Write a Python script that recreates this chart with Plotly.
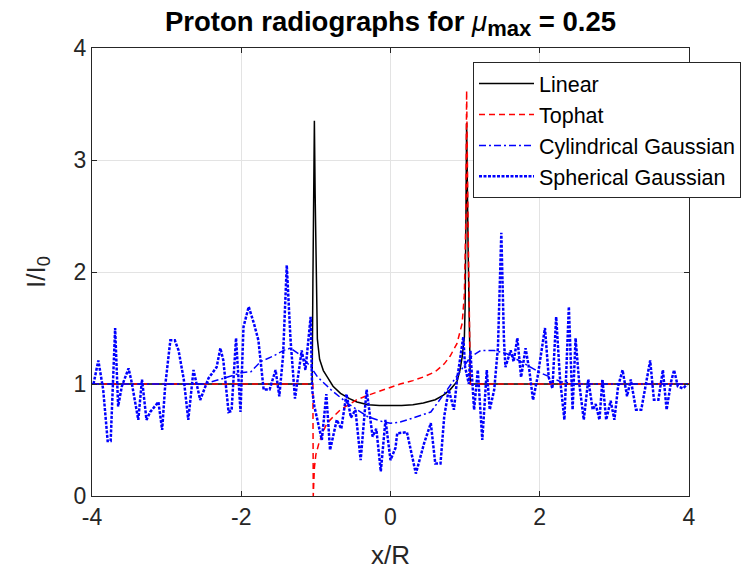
import plotly.graph_objects as go

# ---------------- data ----------------
lin_x = [-4, -1.05, -1.04, -1.03, -1.02, -1.01, -1.0, -0.98, -0.95, -0.9, -0.85, -0.77, -0.67,
         -0.55, -0.45, -0.3, -0.15, 0.0, 0.15, 0.3, 0.44, 0.6, 0.71, 0.8, 0.89, 0.93, 0.96,
         0.99, 1.0, 1.01, 1.02, 1.04, 1.06, 1.07, 4]
lin_y = [1.0, 1.0, 1.9, 2.8, 3.35, 2.7, 2.1, 1.4, 1.22, 1.12, 1.065, 0.98, 0.917,
         0.87, 0.84, 0.815, 0.808, 0.805, 0.808, 0.815, 0.83, 0.86, 0.9, 0.95, 1.02, 1.12, 1.24,
         1.42, 1.7, 2.4, 3.33, 2.2, 1.2, 1.0, 1.0]

top_x = [-4, -1.04, -1.035, -1.02, -1.0, -0.96, -0.9, -0.85, -0.75, -0.67, -0.55, -0.45, -0.3,
         -0.13, 0.0, 0.13, 0.3, 0.45, 0.6, 0.72, 0.8, 0.89, 0.96, 0.99, 1.01, 1.02, 1.04, 1.06, 1.07, 4]
top_y = [1.0, 1.0, 0.0, 0.25, 0.37, 0.47, 0.58, 0.65, 0.72, 0.77, 0.82, 0.86, 0.9,
         0.94, 0.97, 1.0, 1.03, 1.065, 1.11, 1.18, 1.25, 1.36, 1.54, 1.8, 2.5, 3.62, 2.4, 1.3, 1.0, 1.0]

cyl_x = [-4, -2.5, -2.24, -2.0, -1.87, -1.74, -1.57, -1.43, -1.34, -1.21, -1.07, -0.98, -0.8,
         -0.58, -0.31, -0.09, 0.0, 0.13, 0.27, 0.54, 0.76, 0.94, 1.07, 1.21, 1.39, 1.56, 1.79,
         2.01, 2.28, 2.5, 4]
cyl_y = [1.0, 1.0, 1.05, 1.1, 1.11, 1.2, 1.25, 1.3, 1.32, 1.26, 1.155, 1.065, 0.95,
         0.83, 0.71, 0.66, 0.65, 0.66, 0.69, 0.75, 0.95, 1.125, 1.24, 1.3, 1.3, 1.27, 1.18,
         1.1, 1.02, 1.0, 1.0]

sph_x = [-3.98, -3.915, -3.85, -3.79, -3.75, -3.69, -3.65, -3.6, -3.51, -3.47, -3.38, -3.33,
         -3.27, -3.22, -3.11, -3.06, -3.02, -2.95, -2.89, -2.84, -2.77, -2.71, -2.64, -2.6,
         -2.55, -2.44, -2.33, -2.28, -2.24, -2.17, -2.13, -2.07, -2.01, -1.97, -1.9, -1.83,
         -1.77, -1.7, -1.62, -1.54, -1.49, -1.44, -1.39, -1.34, -1.28, -1.19, -1.14, -1.07,
         -1.05, -1.02, -0.96, -0.92, -0.86, -0.81, -0.72, -0.66, -0.59, -0.53, -0.47, -0.4,
         -0.32, -0.24, -0.19, -0.13, -0.067, 0.0, 0.067, 0.09, 0.22, 0.34, 0.45, 0.54, 0.6,
         0.67, 0.72, 0.78, 0.85, 0.89, 0.975, 1.0, 1.05, 1.07, 1.12, 1.17, 1.23, 1.29, 1.33,
         1.39, 1.44, 1.485, 1.52, 1.54, 1.61, 1.65, 1.7, 1.75, 1.81, 1.86, 1.91, 1.97, 2.07,
         2.12, 2.17, 2.22, 2.27, 2.33, 2.39, 2.44, 2.48, 2.53, 2.59, 2.65, 2.71, 2.75, 2.8,
         2.84, 2.89, 2.95, 3.0, 3.05, 3.11, 3.17, 3.22, 3.29, 3.36, 3.42, 3.48, 3.53, 3.59,
         3.65, 3.7, 3.76, 3.8, 3.85, 3.92, 3.98]
sph_y = [1.0, 1.21, 0.95, 0.49, 0.49, 1.5, 0.8, 0.98, 1.14, 1.02, 0.68, 1.04,
         0.68, 0.75, 0.84, 0.59, 0.98, 1.39, 1.39, 1.3, 1.04, 0.68, 1.125, 1.0,
         0.857, 1.05, 1.15, 1.32, 1.21, 0.75, 0.76, 1.41, 0.75, 1.51, 1.69, 1.54,
         1.39, 0.95, 0.95, 1.125, 0.89, 1.25, 2.06, 1.4, 0.87, 1.3, 1.125, 1.6,
         0.95, 0.8, 0.62, 0.5, 0.91, 0.41, 0.68, 0.6, 0.91, 0.7, 0.77, 0.32,
         0.95, 0.53, 0.6, 0.22, 0.68, 0.32, 0.43, 0.56, 0.57, 0.2, 0.47, 0.65, 0.29,
         0.29, 0.71, 0.95, 0.77, 1.03, 1.42, 1.15, 1.0, 1.3, 0.77, 1.125, 0.5, 1.125, 0.77,
         0.95, 1.33, 2.35, 1.4, 1.15, 1.3, 1.2, 1.41, 1.06, 1.32, 1.125, 0.857, 1.06, 1.5,
         1.06, 0.96, 1.6, 1.06, 0.68, 1.69, 0.77, 1.41, 1.0, 0.68, 1.04, 0.77, 0.82, 0.68,
         1.04, 0.68, 0.85, 0.68, 0.98, 1.125, 0.89, 1.04, 0.77, 0.77, 0.98, 1.21, 0.86, 0.86,
         1.125, 0.77, 1.02, 1.125, 0.98, 0.96, 1.0]

x_ticks = [-4, -2, 0, 2, 4]
x_ticktext = ["-4", "-2", "0", "2", "4"]
y_ticks = [0, 1, 2, 3, 4]
y_ticktext = ["0", "1", "2", "3", "4"]

FONT = "Arial, 'Liberation Sans', Helvetica, sans-serif"
AXC = "#262626"

fig = go.Figure()
fig.add_trace(go.Scatter(x=lin_x, y=lin_y, mode="lines", name="Linear", legendgroup="a",
                         line=dict(color="black", width=1.5)))
fig.add_trace(go.Scatter(x=top_x, y=top_y, mode="lines", name="Tophat", legendgroup="b",
                         line=dict(color="#ff0000", width=1.5, dash="6px,4px")))
fig.add_trace(go.Scatter(x=cyl_x, y=cyl_y, mode="lines", name="Cylindrical Gaussian", legendgroup="c",
                         line=dict(color="#0000ff", width=1.5, dash="7px,3px,2px,3px")))
fig.add_trace(go.Scatter(x=sph_x, y=sph_y, mode="lines", name="Spherical Gaussian", legendgroup="d",
                         line=dict(color="#0000ff", width=2.5, dash="3px,1.5px")))

axis_common = dict(showgrid=True, gridcolor="#e3e3e3", gridwidth=1, zeroline=False,
                   showline=True, linecolor=AXC, linewidth=1, mirror="ticks",
                   ticks="inside", ticklen=5, tickcolor=AXC,
                   tickfont=dict(family=FONT, size=23, color=AXC))

fig.update_xaxes(range=[-4, 4], tickvals=x_ticks, ticktext=x_ticktext,
                 title=dict(text="x/R", font=dict(family=FONT, size=26, color=AXC), standoff=17),
                 **axis_common)
fig.update_yaxes(range=[0, 4], tickvals=y_ticks, ticktext=y_ticktext,
                 title=dict(text="I/I<sub>0</sub>", font=dict(family=FONT, size=26, color=AXC), standoff=20),
                 **axis_common)

fig.update_layout(
    width=754, height=572,
    margin=dict(l=92, r=65, t=48, b=76, autoexpand=False),
    paper_bgcolor="white", plot_bgcolor="white",
    title=dict(text="<b>Proton radiographs for </b><i>μ</i><sub><b><span style=\"font-size:22px\">max</span></b></sub><b> = 0.25</b>",
               x=(92 + 597 / 2) / 754, xanchor="center", y=1 - 21 / 572, yanchor="middle",
               font=dict(family=FONT, size=27.5, color="black")),
    legend=dict(x=(473 - 92) / 597, y=(496 - 62) / 448, xanchor="left", yanchor="top",
                bgcolor="white", bordercolor=AXC, borderwidth=1,
                font=dict(family=FONT, size=21.5, color="black"),
                itemwidth=55, tracegroupgap=0, traceorder="normal"),
    showlegend=True,
)

fig.write_html("out.html")
